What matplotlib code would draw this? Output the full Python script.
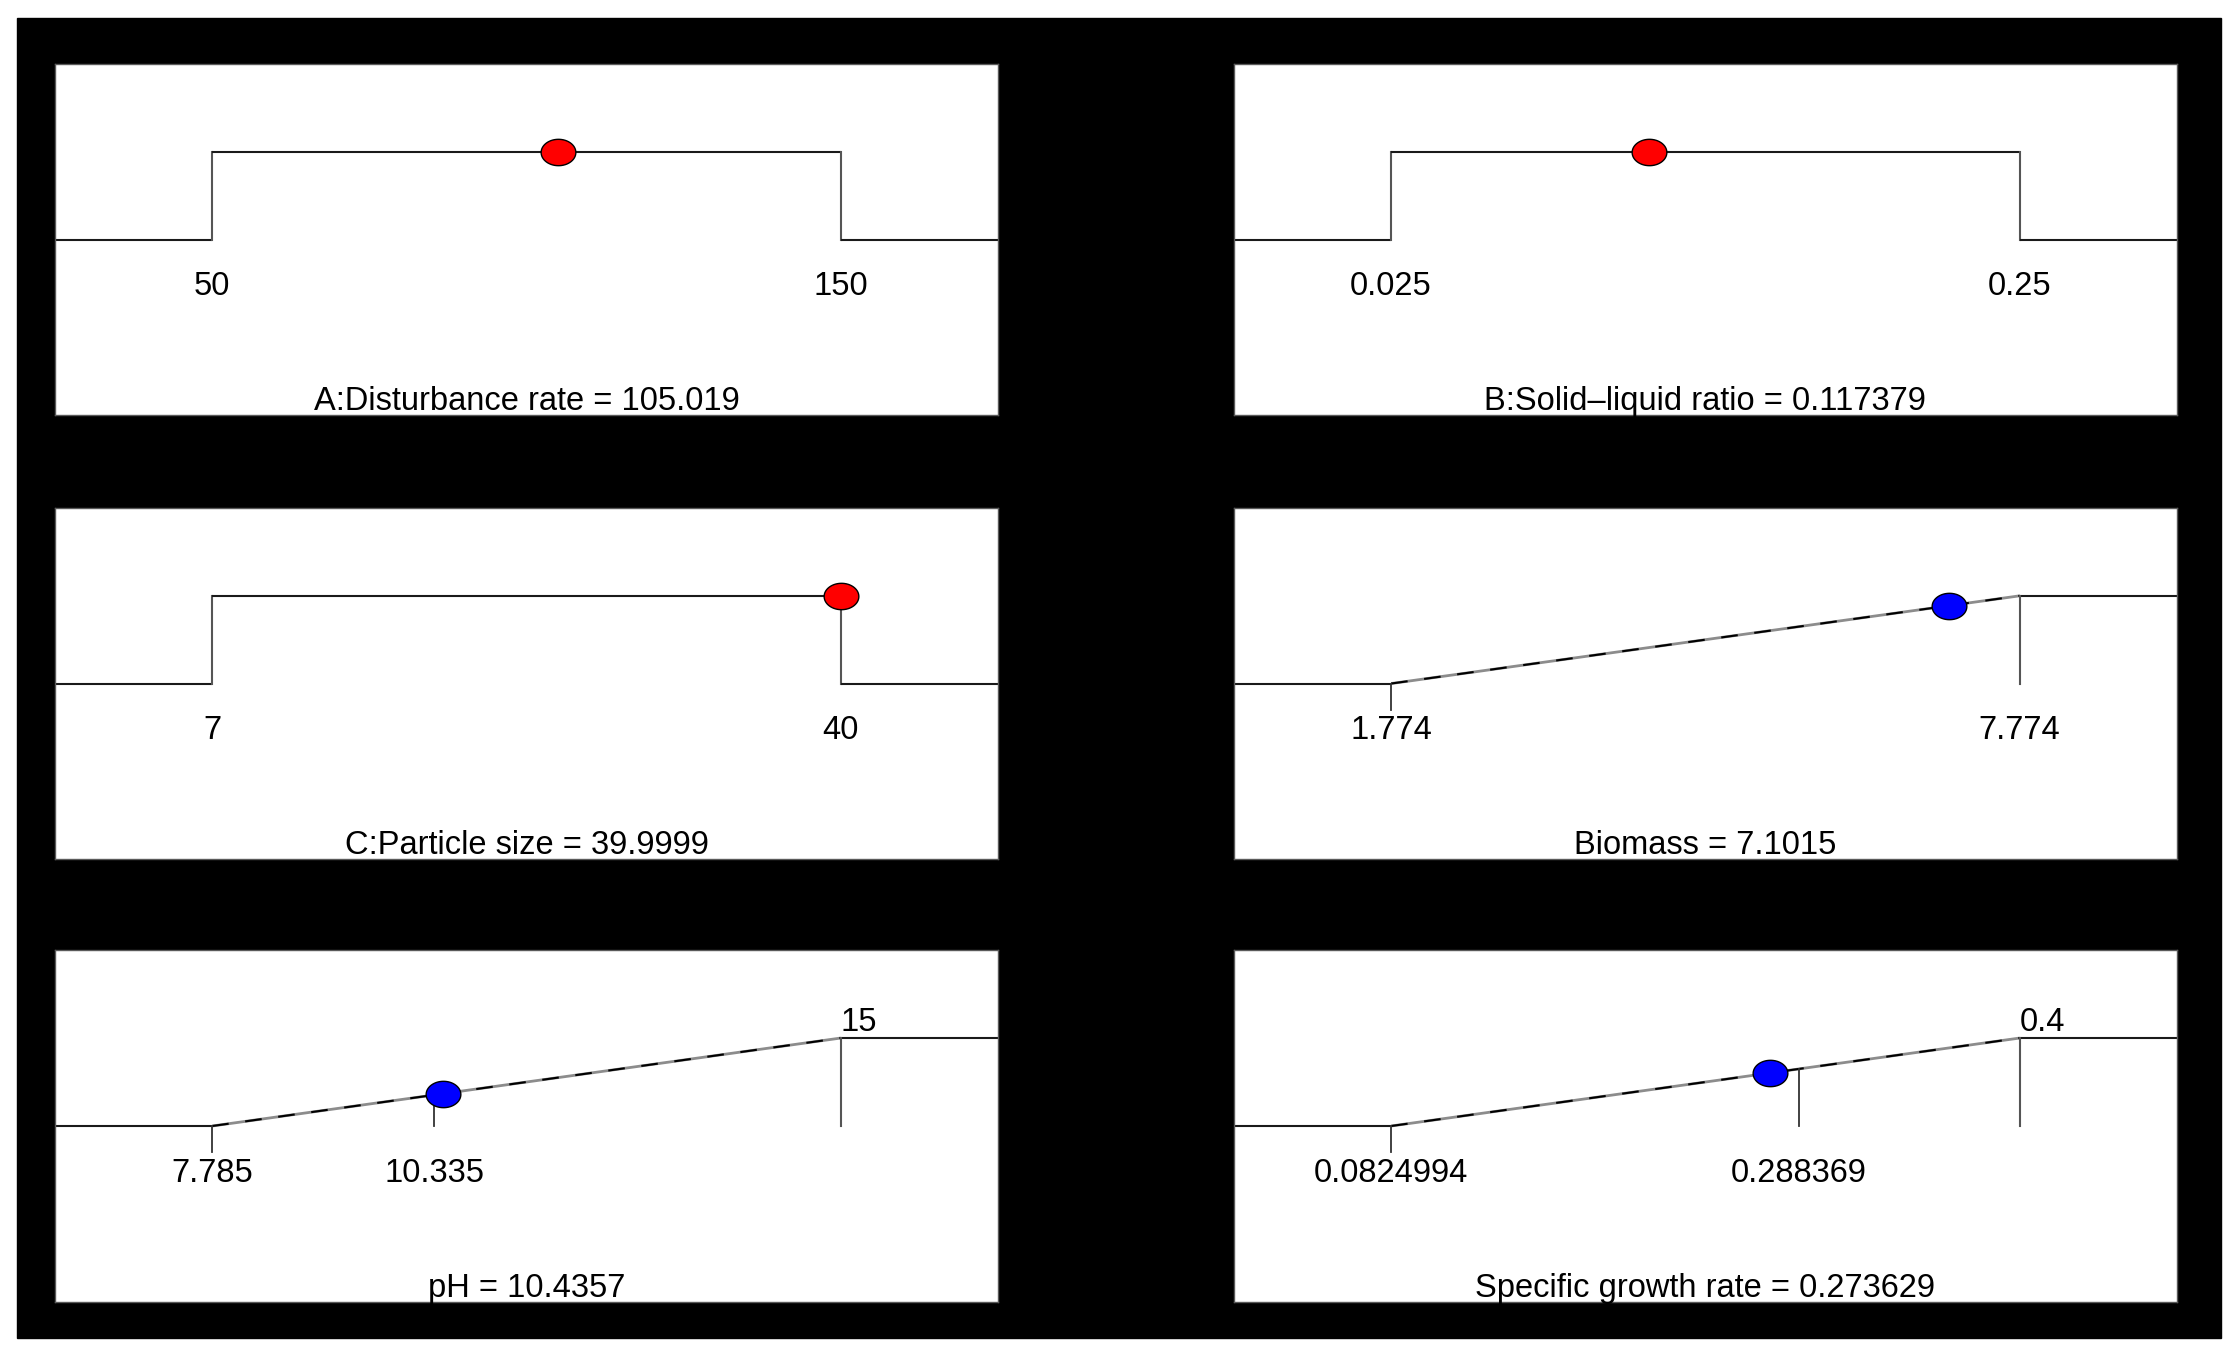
import numpy as np
import matplotlib.pyplot as plt
from matplotlib.path import Path
from matplotlib.patches import Rectangle

plt.rcParams['font.family'] = ['Liberation Sans', 'DejaVu Sans']

# desirability ramps: factors (A, B, C) and responses
names = ['A:Disturbance rate', 'B:Solid\u2013liquid ratio', 'C:Particle size',
         'Biomass', 'pH', 'Specific growth rate']
value_text = ['105.019', '0.117379', '39.9999', '7.1015', '10.4357', '0.273629']
values = [105.019, 0.117379, 39.9999, 7.1015, 10.4357, 0.273629]
lows = [50, 0.025, 7, 1.774, 7.785, 0.0824994]
highs = [150, 0.25, 40, 7.774, 15, 0.4]
low_text = ['50', '0.025', '7', '1.774', '7.785', '0.0824994']
high_text = ['150', '0.25', '40', '7.774', '15', '0.4']
is_response = [False, False, False, True, True, True]
high_label_above = [False, False, False, False, True, True]
mid_ticks = [None, None, None, None, 10.335, 0.288369]
mid_text = [None, None, None, None, '10.335', '0.288369']

W, H = 2234, 1354
fig = plt.figure(figsize=(W / 100 - 0.001, H / 100 - 0.001), dpi=100)
fig.patches.append(Rectangle((17 / W, (H - 1339) / H), (2221 - 17) / W, (1339 - 19) / H,
                             transform=fig.transFigure, color='black', zorder=-10))

# ellipse marker (wider than tall)
t = np.linspace(0, 2 * np.pi, 60)
ell = Path(np.column_stack([np.cos(t), 0.76 * np.sin(t)]), closed=True)

col_x = [55, 1234]
row_y = [(65, 416), (509, 860), (951, 1303)]
fs = 23.5

for i in range(6):
    r, c = divmod(i, 2)
    top, bot = row_y[r]
    ax = fig.add_axes([col_x[c] / W, (H - bot) / H, 943 / W, (bot - top) / H])
    ax.set_facecolor('white')
    for s in ax.spines.values():
        s.set_color('#5a5a5a')
        s.set_linewidth(1.0)
    ax.set_xticks([])
    ax.set_yticks([])

    lo, hi = lows[i], highs[i]
    rng = hi - lo
    x0, x1 = lo - 0.25 * rng, hi + 0.25 * rng
    ax.set_xlim(x0, x1)
    ax.set_ylim(-2, 2)

    ax.plot([x0, lo], [0, 0], color='#1a1a1a', lw=1.5, solid_capstyle='butt')
    if is_response[i]:
        ax.plot([lo, hi], [0, 1], color='#8c8c8c', lw=2.0, solid_capstyle='butt')
        ax.plot([lo, hi], [0, 1], color='black', lw=1.5, dashes=(8, 8))
        ax.plot([hi, x1], [1, 1], color='#1a1a1a', lw=1.5, solid_capstyle='butt')
        ax.plot([hi, hi], [1, 0], color='#555555', lw=1.5)
        ax.plot([lo, lo], [0, -0.3], color='#333333', lw=1.3)
        dot_y = (values[i] - lo) / rng
        dot_color = 'blue'
    else:
        ax.plot([lo, lo], [0, 1], color='#555555', lw=1.5)
        ax.plot([lo, hi], [1, 1], color='#1a1a1a', lw=1.5, solid_capstyle='butt')
        ax.plot([hi, hi], [1, 0], color='#555555', lw=1.5)
        ax.plot([hi, x1], [0, 0], color='#1a1a1a', lw=1.5, solid_capstyle='butt')
        dot_y = 1
        dot_color = 'red'

    if mid_ticks[i] is not None:
        m = mid_ticks[i]
        ax.plot([m, m], [(m - lo) / rng, 0], color='#333333', lw=1.3)
        ax.text(m, -0.53, mid_text[i], ha='center', va='center', fontsize=fs)

    ax.text(lo, -0.53, low_text[i], ha='center', va='center', fontsize=fs)
    if high_label_above[i]:
        ax.text(hi, 1.19, high_text[i], ha='left', va='center', fontsize=fs)
    else:
        ax.text(hi, -0.53, high_text[i], ha='center', va='center', fontsize=fs)

    ax.plot([values[i]], [dot_y], marker=ell, markersize=25, color=dot_color,
            markeredgecolor='black', markeredgewidth=1.0, zorder=5)

    ax.text(0.5, 0.017, f'{names[i]} = {value_text[i]}', transform=ax.transAxes,
            ha='center', va='baseline', fontsize=fs)

fig.savefig('out.png', dpi=100, facecolor='white')
